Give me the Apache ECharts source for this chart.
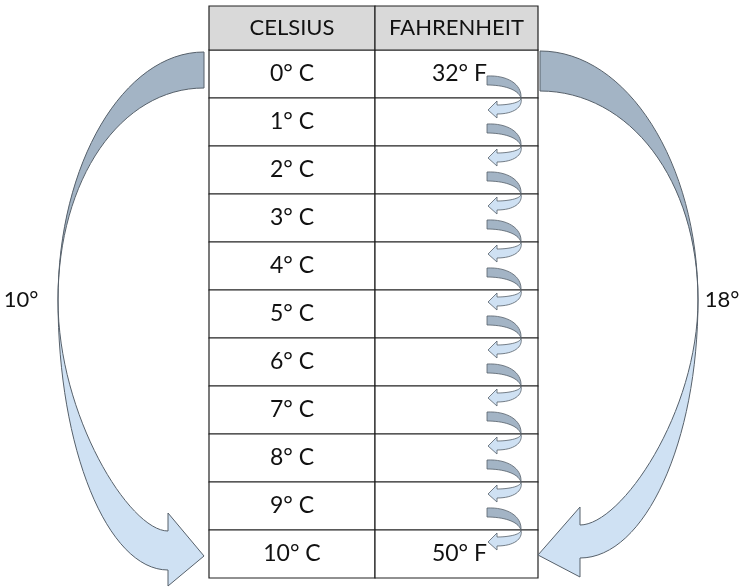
<!DOCTYPE html>
<html>
<head>
<meta charset="utf-8">
<script src="https://cdn.jsdelivr.net/npm/echarts@6/dist/echarts.min.js"></script>
<style>
  html, body { margin: 0; padding: 0; background: #fff; }
  #main { width: 750px; height: 588px; }
</style>
</head>
<body>
<div id="main"></div>
<script>
// 数据
const headers = ['CELSIUS', 'FAHRENHEIT'];
const celsiusValues = [0, 1, 2, 3, 4, 5, 6, 7, 8, 9, 10];
const fahrenheitValues = [32, null, null, null, null, null, null, null, null, null, 50];

const celsiusLabels = celsiusValues.map(v => v + '° C');
const fahrenheitLabels = fahrenheitValues.map(v => (v === null ? '' : v + '° F'));
// 两侧跨度：10° 和 18°
const spans = [
  celsiusValues[celsiusValues.length - 1] - celsiusValues[0],
  fahrenheitValues[fahrenheitValues.length - 1] - fahrenheitValues[0]
];

const FONT = 'Lato, "Open Sans", sans-serif';
const BACK = '#a3b4c5';
const FRONT = '#cfe1f3';
const EDGE = '#56606a';

(function () {
  const myChart = echarts.init(document.getElementById('main'));

  // 表格
  function renderTable(params, api) {
    const i = params.dataIndex;
    const c = api.coord([0, i]);
    const h = api.size([0, 1])[1];
    const left = c[0];
    const right = api.coord([2, i])[0];
    const split = left + (right - left) * 166 / 329;
    const top = c[1] - h / 2;
    const children = [
      { type: 'rect', shape: { x: left, y: top, width: split - left, height: h },
        style: { fill: '#fff', stroke: '#222', lineWidth: 1.2 } },
      { type: 'rect', shape: { x: split, y: top, width: right - split, height: h },
        style: { fill: '#fff', stroke: '#222', lineWidth: 1.2 } },
      { type: 'text', x: (left + split) / 2, y: c[1],
        style: { text: celsiusLabels[i], fill: '#111', font: '23px ' + FONT, align: 'center', verticalAlign: 'middle' } },
      { type: 'text', x: right - 51, y: c[1],
        style: { text: fahrenheitLabels[i], fill: '#111', font: '23px ' + FONT, align: 'right', verticalAlign: 'middle' } }
    ];
    if (i === 0) {
      const hh = h - 4;
      children.push(
        { type: 'rect', shape: { x: left, y: top - hh, width: split - left, height: hh },
          style: { fill: '#d9d9d9', stroke: '#222', lineWidth: 1.2 } },
        { type: 'rect', shape: { x: split, y: top - hh, width: right - split, height: hh },
          style: { fill: '#d9d9d9', stroke: '#222', lineWidth: 1.2 } },
        { type: 'text', x: (left + split) / 2, y: top - hh / 2,
          style: { text: headers[0], fill: '#111', font: '22px ' + FONT, align: 'center', verticalAlign: 'middle' } },
        { type: 'text', x: (split + right) / 2, y: top - hh / 2,
          style: { text: headers[1], fill: '#111', font: '22px ' + FONT, align: 'center', verticalAlign: 'middle' } }
      );
    }
    return { type: 'group', children: children };
  }

  // 每行之间的小弯箭头
  function renderStep(params, api) {
    const i = params.dataIndex;
    const c = api.coord([2, i]);
    const h = api.size([0, 1])[1];
    const xr = c[0];
    const cy = c[1];
    const ly = cy + h / 2;
    const xs = xr - 51, xe = xr - 17, xh = xr - 41;
    const back = 'M' + xs + ' ' + (cy + 2) +
      ' C' + (xs + 20) + ' ' + (cy + 1) + ' ' + (xe + 1) + ' ' + (ly - 14) + ' ' + xe + ' ' + ly +
      ' C' + (xe - 3) + ' ' + (ly - 9) + ' ' + (xs + 16) + ' ' + (cy + 11) + ' ' + xs + ' ' + (cy + 11) + ' Z';
    const front = 'M' + xe + ' ' + ly +
      ' C' + xe + ' ' + (ly + 5) + ' ' + (xh + 10) + ' ' + (ly + 7) + ' ' + xh + ' ' + (ly + 7) +
      ' L' + xh + ' ' + (ly + 3) + ' L' + (xs + 1) + ' ' + (ly + 12) + ' L' + xh + ' ' + (ly + 20) +
      ' L' + xh + ' ' + (ly + 16) +
      ' C' + (xh + 17) + ' ' + (ly + 16) + ' ' + (xe + 2) + ' ' + (ly + 9) + ' ' + xe + ' ' + ly + ' Z';
    return {
      type: 'group',
      children: [
        { type: 'path', shape: { pathData: back }, style: { fill: BACK, stroke: EDGE, lineWidth: 0.8 } },
        { type: 'path', shape: { pathData: front }, style: { fill: FRONT, stroke: EDGE, lineWidth: 0.8 } }
      ]
    };
  }

  function arrowPaths(o) {
    const E = o.E, X = o.X, xH = o.xH;
    const back = 'M' + E + ' ' + o.yT +
      ' C' + (E + (X - E) * 0.55) + ' ' + o.yT + ' ' + X + ' ' + (o.yM - (o.yM - o.yT) * 0.55) + ' ' + X + ' ' + o.yM +
      ' C' + X + ' ' + (o.yM - (o.yM - o.yB) * 0.57) + ' ' + (E + (X - E) * 0.57) + ' ' + o.yB + ' ' + E + ' ' + o.yB + ' Z';
    const front = 'M' + X + ' ' + o.yM +
      ' C' + X + ' ' + (o.yM + (o.inEnd - o.yM) * 0.5) + ' ' + (xH + (X - xH) * 0.35) + ' ' + o.inEnd + ' ' + xH + ' ' + o.inEnd +
      ' L' + xH + ' ' + o.headTop + ' L' + o.xTip + ' ' + o.yTip + ' L' + xH + ' ' + o.headBot +
      ' L' + xH + ' ' + o.outEnd +
      ' C' + (xH + (X - xH) * 0.55) + ' ' + o.outEnd + ' ' + X + ' ' + (o.yM + (o.outEnd - o.yM) * 0.55) + ' ' + X + ' ' + o.yM + ' Z';
    return [back, front];
  }

  // 两侧的大弯箭头
  function renderSpan(params, api) {
    const k = params.dataIndex;
    const h = api.size([0, 1])[1];
    const first = api.coord([0, 0]);
    const last = api.coord([0, celsiusValues.length - 1]);
    const left = first[0];
    const right = api.coord([2, 0])[0];
    const top = first[1] - h / 2;
    const lc = last[1];
    const yM = top + 250;
    let o, labelX;
    if (k === 0) {
      o = { E: left - 5, X: left - 151, yT: top + 2, yB: top + 38, yM: yM,
            xH: left - 41, xTip: left - 5, yTip: lc + 2, headTop: lc - 41, headBot: lc + 32,
            inEnd: lc - 23, outEnd: lc + 16 };
      labelX = o.X - 37;
    } else {
      o = { E: right + 2, X: right + 160, yT: top + 1, yB: top + 41, yM: yM,
            xH: right + 42, xTip: right, yTip: lc + 1, headTop: lc - 47, headBot: lc + 23,
            inEnd: lc - 29, outEnd: lc + 4 };
      labelX = o.X + 24;
    }
    const p = arrowPaths(o);
    return {
      type: 'group',
      children: [
        { type: 'path', shape: { pathData: p[0] }, style: { fill: BACK, stroke: EDGE, lineWidth: 1 } },
        { type: 'path', shape: { pathData: p[1] }, style: { fill: FRONT, stroke: EDGE, lineWidth: 1 } },
        { type: 'text', x: labelX, y: yM,
          style: { text: spans[k] + '°', fill: '#111', font: '22px ' + FONT, align: 'center', verticalAlign: 'middle' } }
      ]
    };
  }

  const option = {
    animation: false,
    grid: { left: 209, top: 50, width: 329, height: 528 },
    xAxis: { type: 'value', min: 0, max: 2, show: false },
    yAxis: { type: 'category', data: celsiusLabels, inverse: true, show: false },
    series: [
      { type: 'custom', name: 'table', clip: false, renderItem: renderTable,
        data: celsiusValues.map((v, i) => [0, i]) },
      { type: 'custom', name: 'spans', clip: false, renderItem: renderSpan,
        data: spans.map((v, k) => [0, 0]) },
      { type: 'custom', name: 'steps', clip: false, renderItem: renderStep,
        data: celsiusValues.slice(0, -1).map((v, i) => [2, i]) }
    ]
  };
  myChart.setOption(option);
})();
</script>
</body>
</html>
